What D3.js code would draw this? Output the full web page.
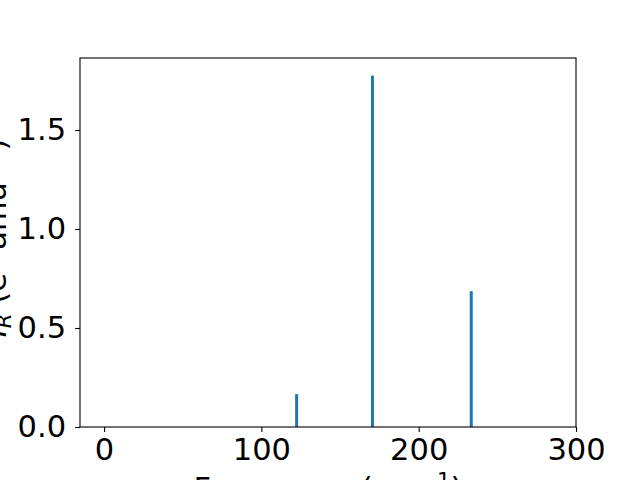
<!DOCTYPE html>
<html>
<head>
<meta charset="utf-8">
<script src="https://cdn.jsdelivr.net/npm/d3@7"></script>
<style>
  body { margin: 0; background: #fff; }
  svg { font-family: "DejaVu Sans", sans-serif; }
</style>
</head>
<body>
<svg width="640" height="480"></svg>
<script>
// peak positions (cm^-1) and IR intensities
const freqs = [122.4, 170.6, 233.4];
const intensities = [0.166, 1.775, 0.686];
const xTicks = [0, 100, 200, 300];
const yTicks = [0.0, 0.5, 1.0, 1.5];

const margin = {left: 80, right: 64, top: 58, bottom: 53};
const W = 640, H = 480;
const fs = 30.5;

const svg = d3.select("svg");
const x = d3.scaleLinear().domain([-15.3, 300]).range([margin.left, W - margin.right]);
const y = d3.scaleLinear().domain([0, 1.775 * 1.05]).range([H - margin.bottom, margin.top]);

// bars
svg.append("g")
   .selectAll("rect")
   .data(freqs)
   .enter()
   .append("rect")
     .attr("x", d => x(d) - 1.5)
     .attr("width", 3)
     .attr("y", (d, i) => y(intensities[i]))
     .attr("height", (d, i) => y(0) - y(intensities[i]))
     .attr("fill", "#1f77b4");

// axes
const xAxis = svg.append("g")
   .attr("transform", `translate(0,${H - margin.bottom})`)
   .call(d3.axisBottom(x).tickValues(xTicks).tickFormat(d3.format("d")).tickSizeOuter(0).tickSize(4.9).tickPadding(5));
const yAxis = svg.append("g")
   .attr("transform", `translate(${margin.left},0)`)
   .call(d3.axisLeft(y).tickValues(yTicks).tickFormat(d3.format(".1f")).tickSizeOuter(0).tickSize(4.9).tickPadding(9));

[xAxis, yAxis].forEach(g => {
  g.select(".domain").remove();
  g.selectAll("line").attr("stroke", "#000").attr("stroke-width", 1.1);
  g.selectAll("text").attr("fill", "#000").style("font-size", fs + "px").style("font-family", "DejaVu Sans");
});
xAxis.selectAll("text").attr("dy", "0.76em");

// frame
svg.append("rect")
   .attr("x", margin.left).attr("y", margin.top)
   .attr("width", W - margin.right - margin.left)
   .attr("height", H - margin.bottom - margin.top)
   .attr("fill", "none").attr("stroke", "#000").attr("stroke-width", 1.1);

// x label
const xl = svg.append("text")
   .attr("x", (margin.left + W - margin.right) / 2)
   .attr("y", 499)
   .attr("text-anchor", "middle")
   .style("font-size", fs + "px");
xl.append("tspan").text("Frequency (cm");
xl.append("tspan").attr("dy", -11).style("font-size", (fs * 0.7) + "px").text("\u22121");
xl.append("tspan").attr("dy", 11).text(")");

// y label
const yl = svg.append("text")
   .attr("transform", "translate(5.5,238) rotate(-90)")
   .attr("text-anchor", "middle")
   .style("font-size", fs + "px");
yl.append("tspan").style("font-style", "italic").text("I");
yl.append("tspan").attr("dy", 5).style("font-size", (fs * 0.7) + "px").style("font-style", "italic").text("R");
yl.append("tspan").attr("dy", -5).text(" (e");
yl.append("tspan").attr("dy", -11).style("font-size", (fs * 0.7) + "px").text("2");
yl.append("tspan").attr("dy", 11).text(" amu");
yl.append("tspan").attr("dy", -11).style("font-size", (fs * 0.7) + "px").text("\u22121");
yl.append("tspan").attr("dy", 11).text(")");
</script>
</body>
</html>
